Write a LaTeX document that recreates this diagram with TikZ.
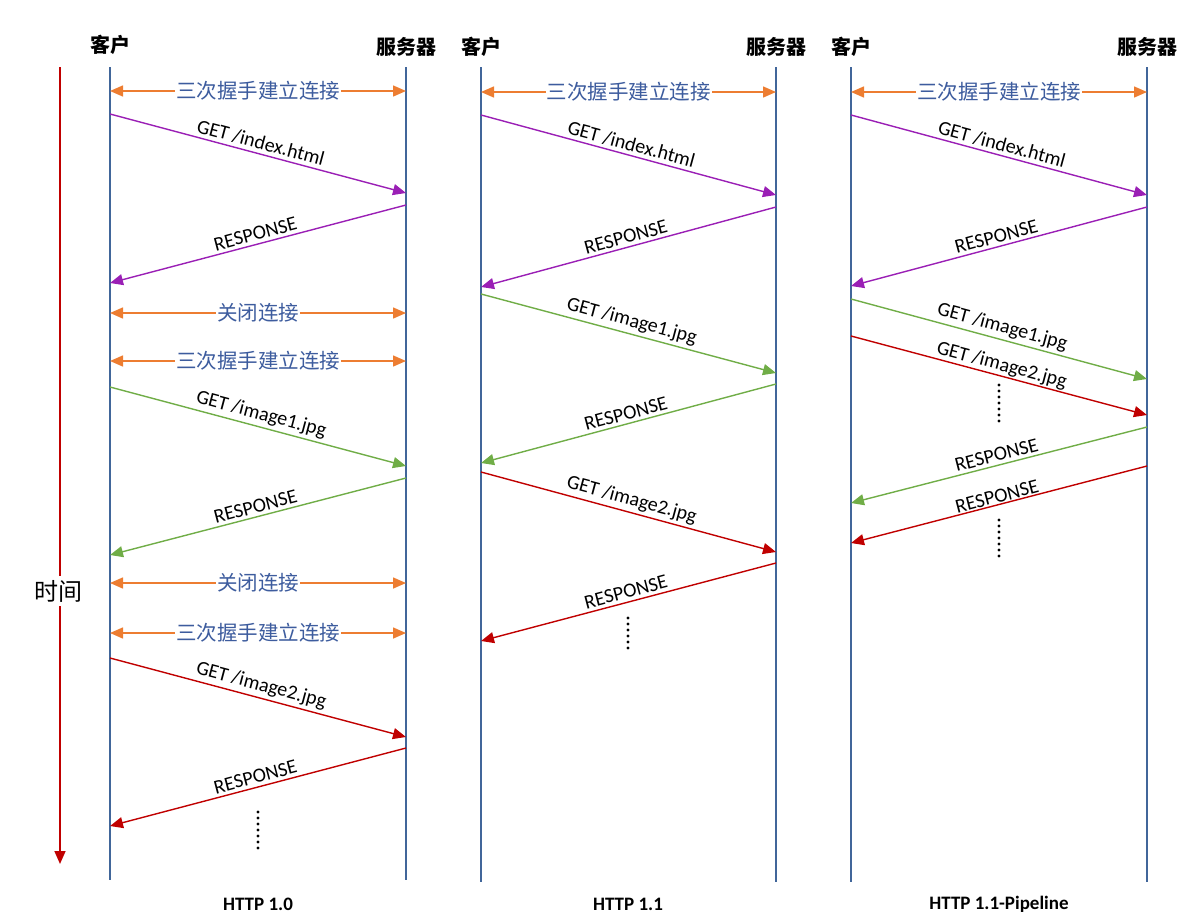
\documentclass[tikz,border=0pt]{standalone}
\usepackage{fontspec}
\setmainfont{Carlito}
\newfontfamily\cjk{Noto Sans CJK SC}
\usetikzlibrary{arrows.meta}
\definecolor{lifec}{HTML}{41669A}
\definecolor{hsorange}{HTML}{ED7D31}
\definecolor{hsblue}{HTML}{3D5C9E}
\definecolor{mpurple}{HTML}{9A1FB5}
\definecolor{mgreen}{HTML}{70AD47}
\definecolor{mred}{HTML}{C00000}
\tikzset{
  lifeline/.style={draw=lifec, line width=1.5pt},
  tip/.tip={Triangle[length=13pt,width=11pt]},
  msg/.style={line width=1.4pt, -tip},
  hsarrow/.style={draw=hsorange, line width=1.5pt, tip-tip},
  hstext/.style={fill=white, text=hsblue, font=\cjk\fontsize{20.5}{20.5}\selectfont, inner sep=1pt},
  mlabel/.style={font=\fontsize{20}{20}\selectfont, sloped, above, midway, inner sep=3pt},
  header/.style={font=\cjk\bfseries\fontsize{20}{20}\selectfont},
  caption/.style={font=\bfseries\fontsize{19}{19}\selectfont},
  dotsline/.style={line width=3.2pt, line cap=round, dash pattern=on 0pt off 6pt},
}
\begin{document}
\begin{tikzpicture}[x=1pt,y=-1pt]
\useasboundingbox (0,0) rectangle (1190,916);
% ---------- time axis ----------
\coordinate (t0) at (60,67);
\coordinate (t1) at (60,864);
\draw[draw=mred, line width=1.6pt, -{Triangle[length=13pt,width=11pt]}] (t0) -- (t1);
\node[fill=white, inner sep=4pt, font=\cjk\fontsize{24}{24}\selectfont] (time) at (58,591) {时间};

% ---------- panel 1 ----------
\node[header] (c1) at (110,45) {客户};
\node[header] (s1) at (406,47) {服务器};
\coordinate (c1top) at (110,67); \coordinate (c1bot) at (110,880);
\coordinate (s1top) at (406,67); \coordinate (s1bot) at (406,880);
\draw[lifeline] (c1top) -- (c1bot);
\draw[lifeline] (s1top) -- (s1bot);
\node[caption] (p1) at (258,904) {HTTP 1.0};

\coordinate (a1) at (110,91); \coordinate (b1) at (406,91);
\draw[hsarrow] (a1) -- (b1) node[hstext, midway] {三次握手建立连接};
\coordinate (a2) at (110,114); \coordinate (b2) at (406,193);
\draw[msg, mpurple] (a2) -- (b2) node[mlabel, text=black] {GET /index.html};
\coordinate (b3) at (406,205); \coordinate (a3) at (110,283);
\draw[msg, mpurple] (b3) -- (a3) node[mlabel, text=black] {RESPONSE};
\coordinate (a4) at (110,313); \coordinate (b4) at (406,313);
\draw[hsarrow] (a4) -- (b4) node[hstext, midway] {关闭连接};
\coordinate (a5) at (110,361); \coordinate (b5) at (406,361);
\draw[hsarrow] (a5) -- (b5) node[hstext, midway] {三次握手建立连接};
\coordinate (a6) at (110,387); \coordinate (b6) at (406,466);
\draw[msg, mgreen] (a6) -- (b6) node[mlabel, text=black] {GET /image1.jpg};
\coordinate (b7) at (406,478); \coordinate (a7) at (110,555);
\draw[msg, mgreen] (b7) -- (a7) node[mlabel, text=black] {RESPONSE};
\coordinate (a8) at (110,583); \coordinate (b8) at (406,583);
\draw[hsarrow] (a8) -- (b8) node[hstext, midway] {关闭连接};
\coordinate (a9) at (110,633); \coordinate (b9) at (406,633);
\draw[hsarrow] (a9) -- (b9) node[hstext, midway] {三次握手建立连接};
\coordinate (a10) at (110,658); \coordinate (b10) at (406,737);
\draw[msg, mred] (a10) -- (b10) node[mlabel, text=black] {GET /image2.jpg};
\coordinate (b11) at (406,748); \coordinate (a11) at (110,826);
\draw[msg, mred] (b11) -- (a11) node[mlabel, text=black] {RESPONSE};
\coordinate (d1a) at (258,812); \coordinate (d1b) at (258,848);
\draw[dotsline] (d1a) -- (d1b);

% ---------- panel 2 ----------
\node[header] (c2) at (481,47) {客户};
\node[header] (s2) at (776,47) {服务器};
\coordinate (c2top) at (481,67); \coordinate (c2bot) at (481,882);
\coordinate (s2top) at (776,67); \coordinate (s2bot) at (776,882);
\draw[lifeline] (c2top) -- (c2bot);
\draw[lifeline] (s2top) -- (s2bot);
\node[caption] (p2) at (628,904) {HTTP 1.1};

\coordinate (e1) at (481,92); \coordinate (f1) at (776,92);
\draw[hsarrow] (e1) -- (f1) node[hstext, midway] {三次握手建立连接};
\coordinate (e2) at (481,115); \coordinate (f2) at (776,195);
\draw[msg, mpurple] (e2) -- (f2) node[mlabel, text=black] {GET /index.html};
\coordinate (f3) at (776,207); \coordinate (e3) at (481,287);
\draw[msg, mpurple] (f3) -- (e3) node[mlabel, text=black] {RESPONSE};
\coordinate (e4) at (481,294); \coordinate (f4) at (776,373);
\draw[msg, mgreen] (e4) -- (f4) node[mlabel, text=black] {GET /image1.jpg};
\coordinate (f5) at (776,384); \coordinate (e5) at (481,463);
\draw[msg, mgreen] (f5) -- (e5) node[mlabel, text=black] {RESPONSE};
\coordinate (e6) at (481,472); \coordinate (f6) at (776,552);
\draw[msg, mred] (e6) -- (f6) node[mlabel, text=black] {GET /image2.jpg};
\coordinate (f7) at (776,563); \coordinate (e7) at (481,641);
\draw[msg, mred] (f7) -- (e7) node[mlabel, text=black] {RESPONSE};
\coordinate (d2a) at (628,618); \coordinate (d2b) at (628,654);
\draw[dotsline] (d2a) -- (d2b);

% ---------- panel 3 ----------
\node[header] (c3) at (851,47) {客户};
\node[header] (s3) at (1147,47) {服务器};
\coordinate (c3top) at (851,67); \coordinate (c3bot) at (851,882);
\coordinate (s3top) at (1147,67); \coordinate (s3bot) at (1147,882);
\draw[lifeline] (c3top) -- (c3bot);
\draw[lifeline] (s3top) -- (s3bot);
\node[caption] (p3) at (999,904) {HTTP 1.1-Pipeline};

\coordinate (g1) at (851,92); \coordinate (h1) at (1147,92);
\draw[hsarrow] (g1) -- (h1) node[hstext, midway] {三次握手建立连接};
\coordinate (g2) at (851,115); \coordinate (h2) at (1147,195);
\draw[msg, mpurple] (g2) -- (h2) node[mlabel, text=black] {GET /index.html};
\coordinate (h3) at (1147,207); \coordinate (g3) at (851,286);
\draw[msg, mpurple] (h3) -- (g3) node[mlabel, text=black] {RESPONSE};
\coordinate (g4) at (851,299); \coordinate (h4) at (1147,379);
\draw[msg, mgreen] (g4) -- (h4) node[mlabel, text=black] {GET /image1.jpg};
\coordinate (g5) at (851,336); \coordinate (h5) at (1147,415);
\draw[msg, mred] (g5) -- (h5) node[mlabel, text=black, inner sep=1pt] {GET /image2.jpg};
\coordinate (d3a) at (999,385); \coordinate (d3b) at (999,421);
\draw[dotsline] (d3a) -- (d3b);
\coordinate (h6) at (1147,427); \coordinate (g6) at (851,503);
\draw[msg, mgreen] (h6) -- (g6) node[mlabel, text=black] {RESPONSE};
\coordinate (h7) at (1147,466); \coordinate (g7) at (851,543);
\draw[msg, mred] (h7) -- (g7) node[mlabel, text=black, inner sep=1pt] {RESPONSE};
\coordinate (d4a) at (999,520); \coordinate (d4b) at (999,556);
\draw[dotsline] (d4a) -- (d4b);
\end{tikzpicture}
\end{document}
